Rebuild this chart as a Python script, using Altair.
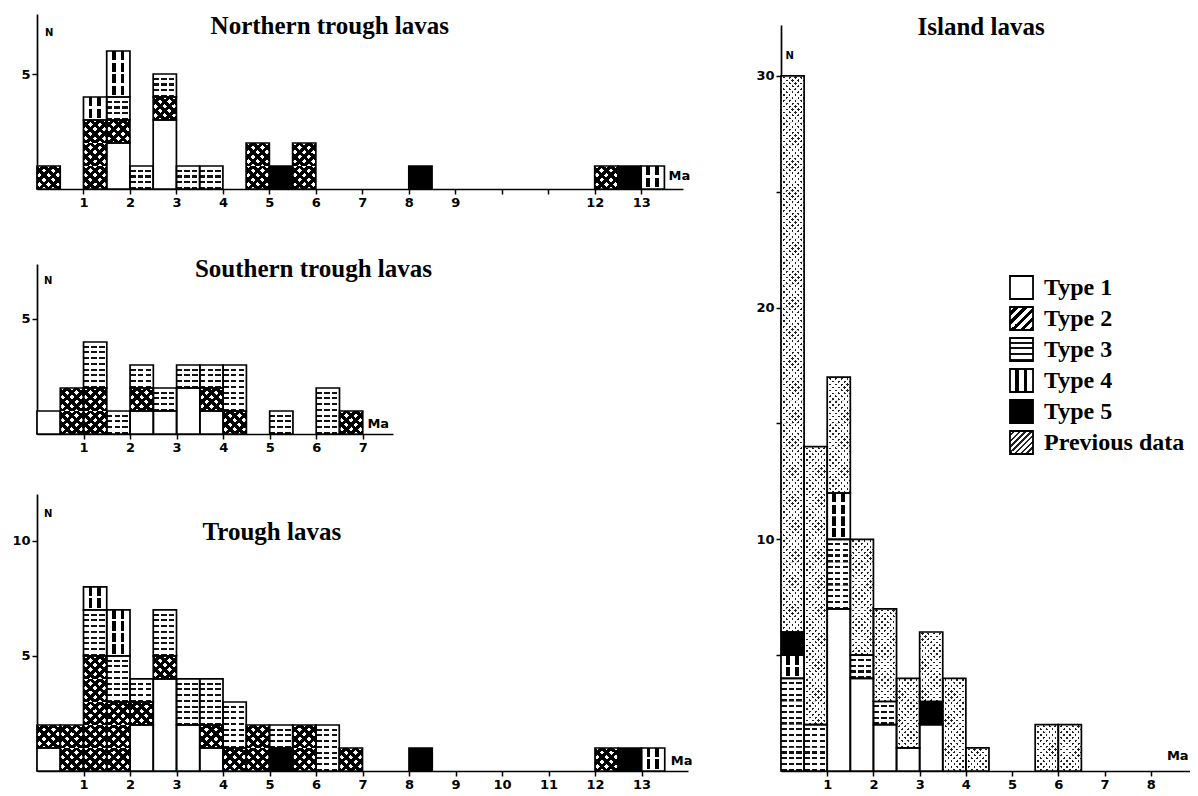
import pandas as pd
import altair as alt

# ---------------- data ----------------
TYPES = ["Type 1", "Type 2", "Type 3", "Type 4", "Type 5", "Previous data"]
BIN_W = 0.5

north_bin = [0.0, 1.0, 1.5, 2.0, 2.5, 3.0, 3.5, 4.5, 5.0, 5.5, 8.0, 12.0, 12.5, 13.0]
north_type1 = [0, 0, 2, 0, 3, 0, 0, 0, 0, 0, 0, 0, 0, 0]
north_type2 = [1, 3, 1, 0, 1, 0, 0, 2, 0, 2, 0, 1, 0, 0]
north_type3 = [0, 0, 1, 1, 1, 1, 1, 0, 0, 0, 0, 0, 0, 0]
north_type4 = [0, 1, 2, 0, 0, 0, 0, 0, 0, 0, 0, 0, 0, 1]
north_type5 = [0, 0, 0, 0, 0, 0, 0, 0, 1, 0, 1, 0, 1, 0]

south_bin = [0.0, 0.5, 1.0, 1.5, 2.0, 2.5, 3.0, 3.5, 4.0, 5.0, 6.0, 6.5]
south_type1 = [1, 0, 0, 0, 1, 1, 2, 1, 0, 0, 0, 0]
south_type2 = [0, 2, 2, 0, 1, 0, 0, 1, 1, 0, 0, 1]
south_type3 = [0, 0, 2, 1, 1, 1, 1, 1, 2, 1, 2, 0]

trough_bin = [0.0, 0.5, 1.0, 1.5, 2.0, 2.5, 3.0, 3.5, 4.0, 4.5, 5.0, 5.5, 6.0, 6.5, 8.0, 12.0, 12.5, 13.0]
trough_type1 = [1, 0, 0, 0, 2, 4, 2, 1, 0, 0, 0, 0, 0, 0, 0, 0, 0, 0]
trough_type2 = [1, 2, 5, 3, 1, 1, 0, 1, 1, 2, 0, 2, 0, 1, 0, 1, 0, 0]
trough_type3 = [0, 0, 2, 2, 1, 2, 2, 2, 2, 0, 1, 0, 2, 0, 0, 0, 0, 0]
trough_type4 = [0, 0, 1, 2, 0, 0, 0, 0, 0, 0, 0, 0, 0, 0, 0, 0, 0, 1]
trough_type5 = [0, 0, 0, 0, 0, 0, 0, 0, 0, 0, 1, 0, 0, 0, 1, 0, 1, 0]

island_bin = [0.0, 0.5, 1.0, 1.5, 2.0, 2.5, 3.0, 3.5, 4.0, 5.5, 6.0]
island_type1 = [0, 0, 7, 4, 2, 1, 2, 0, 0, 0, 0]
island_type3 = [4, 2, 3, 1, 1, 0, 0, 0, 0, 0, 0]
island_type4 = [1, 0, 2, 0, 0, 0, 0, 0, 0, 0, 0]
island_type5 = [1, 0, 0, 0, 0, 0, 1, 0, 0, 0, 0]
island_prev = [24, 12, 5, 5, 4, 3, 3, 4, 1, 2, 2]

TITLES = ["Northern trough lavas", "Southern trough lavas", "Trough lavas", "Island lavas"]


def build(bins, series, order):
    seg, cell = [], []
    for i, b in enumerate(bins):
        base = 0
        for t in order:
            c = series[t][i]
            if c:
                seg.append(dict(type=t, x0=b, x1=b + BIN_W, y0=base, y1=base + c))
                for k in range(c):
                    cell.append(dict(type=t, x0=b, x1=b + BIN_W, y0=base + k, y1=base + k + 1))
                base += c
    return pd.DataFrame(seg), pd.DataFrame(cell)


north = build(north_bin, {"Type 1": north_type1, "Type 2": north_type2, "Type 3": north_type3,
                          "Type 4": north_type4, "Type 5": north_type5},
              ["Type 1", "Type 2", "Type 3", "Type 4", "Type 5"])
south = build(south_bin, {"Type 1": south_type1, "Type 2": south_type2, "Type 3": south_type3},
              ["Type 1", "Type 2", "Type 3"])
trough = build(trough_bin, {"Type 1": trough_type1, "Type 2": trough_type2, "Type 3": trough_type3,
                            "Type 4": trough_type4, "Type 5": trough_type5},
               ["Type 1", "Type 2", "Type 5", "Type 3", "Type 4"])
island = build(island_bin, {"Type 1": island_type1, "Type 3": island_type3, "Type 4": island_type4,
                            "Type 5": island_type5, "Previous data": island_prev},
               ["Type 1", "Type 3", "Type 4", "Type 5", "Previous data"])

# ---------------- hatch-like fills made of hard-stop gradients ----------------
CLEAR = "rgba(255,255,255,0)"


def stripes(n, dark, light, frac, x1, y1, x2, y2):
    stops = []
    for i in range(n):
        a, m, b = i / n, (i + 1 - frac) / n, (i + 1) / n
        stops += [{"offset": round(a, 4), "color": light}, {"offset": round(m, 4), "color": light},
                  {"offset": round(m, 4), "color": dark}, {"offset": round(b, 4), "color": dark}]
    return {"gradient": "linear", "x1": x1, "y1": y1, "x2": x2, "y2": y2, "stops": stops}


def to_expr(g):
    stops = ",".join("{offset:%s,color:'%s'}" % (s["offset"], s["color"]) for s in g["stops"])
    return ("{gradient:'linear',x1:%s,y1:%s,x2:%s,y2:%s,stops:[%s]}"
            % (g["x1"], g["y1"], g["x2"], g["y2"], stops))


# Type 2: black with white dots (two crossing black stripe sets)
G2_A = stripes(5, "black", "white", 0.5, 0, 0, 1, 1)
G2_B = stripes(5, "black", CLEAR, 0.5, 1, 0, 0, 1)
# Type 3: horizontal dashes
G3_A = stripes(4, "#111111", "white", 0.38, 0, 0, 0, 1)
G3_B = stripes(3, "white", CLEAR, 0.28, 0, 0, 1, 0)
# Type 4: broken vertical bars
G4_A = {"gradient": "linear", "x1": 0, "y1": 0, "x2": 1, "y2": 0,
        "stops": [{"offset": 0, "color": "white"}, {"offset": 0.22, "color": "white"},
                  {"offset": 0.22, "color": "black"}, {"offset": 0.38, "color": "black"},
                  {"offset": 0.38, "color": "white"}, {"offset": 0.6, "color": "white"},
                  {"offset": 0.6, "color": "black"}, {"offset": 0.76, "color": "black"},
                  {"offset": 0.76, "color": "white"}, {"offset": 1, "color": "white"}]}
G4_B = stripes(2, "white", CLEAR, 0.18, 0, 0, 0, 1)
# Previous data: white with fine black dots (thin black lines, masked by white crossing stripes)
GP_A = stripes(8, "#222222", "white", 0.42, 0, 0, 1, 1)
GP_B = stripes(8, CLEAR, "white", 0.42, 1, 0, 0, 1)

FILL_RANGE = [{"expr": "'white'"}, {"expr": to_expr(G2_A)}, {"expr": to_expr(G3_A)},
              {"expr": to_expr(G4_A)}, {"expr": "'black'"}, {"expr": to_expr(GP_A)}]
OVERLAYS = [("Type 2", G2_B), ("Type 3", G3_B), ("Type 4", G4_B), ("Previous data", GP_B)]

LEGEND = alt.Legend(title=None, orient="none", legendX=972, legendY=261, padding=0,
                    symbolType="square", symbolSize=530, symbolStrokeColor="black",
                    symbolStrokeWidth=1.8, labelFont="Liberation Serif", labelFontSize=24,
                    labelFontWeight="bold", labelColor="black", labelOffset=10, rowPadding=0,
                    labelLimit=300)

SERIF = "Liberation Serif"
SANS = "DejaVu Sans"


def panel(data, xmax, ymax, w, h, xticks, yticks, ylab_expr, xlab_expr, title, title_xy, n_xy, ma_xy):
    seg, cell = data
    xs = alt.Scale(domain=[0, xmax], nice=False, zero=False)
    ys = alt.Scale(domain=[0, ymax], nice=False)
    xaxis = alt.Axis(values=xticks, title=None, grid=False, labelExpr=xlab_expr)
    yaxis = alt.Axis(values=yticks, title=None, grid=False, labelExpr=ylab_expr)
    cells = alt.Chart(cell).mark_rect().encode(
        x=alt.X("x0:Q", scale=xs, axis=xaxis), x2="x1:Q",
        y=alt.Y("y0:Q", scale=ys, axis=yaxis), y2="y1:Q",
        color=alt.Color("type:N", scale=alt.Scale(domain=TYPES, range=FILL_RANGE), legend=LEGEND),
    )
    layers = [cells]
    present = set(cell["type"])
    for t, g in OVERLAYS:
        if t in present:
            layers.append(alt.Chart(cell).transform_filter(alt.datum.type == t)
                          .mark_rect(fill=g).encode(x="x0:Q", x2="x1:Q", y="y0:Q", y2="y1:Q"))
    layers.append(alt.Chart(seg).mark_rect(filled=False, stroke="black", strokeWidth=1.7)
                  .encode(x="x0:Q", x2="x1:Q", y="y0:Q", y2="y1:Q"))
    one = pd.DataFrame({"k": [0]})
    layers.append(alt.Chart(one).mark_text(text=title, font=SERIF, fontSize=25, fontWeight="bold",
                                           align="center", baseline="middle", color="black")
                  .encode(x=alt.datum(title_xy[0]), y=alt.datum(title_xy[1])))
    layers.append(alt.Chart(one).mark_text(text="N", font=SANS, fontSize=10, fontWeight="bold",
                                           align="left", baseline="middle", color="black")
                  .encode(x=alt.datum(n_xy[0]), y=alt.datum(n_xy[1])))
    layers.append(alt.Chart(one).mark_text(text="Ma", font=SANS, fontSize=13, fontWeight="bold",
                                           align="left", baseline="middle", color="black")
                  .encode(x=alt.datum(ma_xy[0]), y=alt.datum(ma_xy[1])))
    return alt.layer(*layers).properties(width=w, height=h)


north_c = panel(north, 13.9, 7.61, 646, 175, list(range(1, 14)), [5], "datum.label",
                "datum.value == 10 || datum.value == 11 ? '' : datum.label",
                TITLES[0], (6.3, 7.09), (0.17, 6.78), (13.59, 0.57))
south_c = panel(south, 7.65, 7.39, 356, 170, list(range(1, 8)), [5], "datum.label", "datum.label",
                TITLES[1], (5.94, 7.17), (0.15, 6.65), (7.1, 0.43))
trough_c = panel(trough, 14.0, 12.04, 651, 277, list(range(1, 14)), [5, 10], "datum.label",
                 "datum.label", TITLES[2], (5.05, 10.39), (0.15, 11.17), (13.63, 0.43))
island_c = panel(island, 8.85, 32.2, 409, 746, list(range(1, 9)), [5, 10, 15, 20, 25, 30],
                 "datum.value % 10 === 0 ? datum.label : ''", "datum.label",
                 TITLES[3], (4.33, 32.1), (0.1, 30.85), (8.35, 0.65))

spacer = alt.Chart(pd.DataFrame({"s": [0]})).mark_rect(opacity=0).encode(
    x=alt.value(0), x2=alt.value(1), y=alt.value(0), y2=alt.value(1)).properties(width=1, height=1)

left = alt.vconcat(alt.vconcat(north_c, south_c, spacing=75, bounds="flush"),
                   trough_c, spacing=40)
right = alt.vconcat(spacer, island_c, spacing=10, bounds="flush")

chart = (
    alt.hconcat(left, right, spacing=62)
    .properties(padding={"left": 3, "top": 5, "right": 0, "bottom": 0}, background="white")
    .configure_view(stroke=None)
    .configure_axis(domainColor="black", domainWidth=1.7, tickColor="black", tickWidth=1.5,
                    tickSize=5, labelFont=SANS, labelFontWeight="bold", labelFontSize=13,
                    labelColor="black", labelPadding=2)
)

chart.save("out.html", embed_options={"renderer": "svg", "actions": False})
